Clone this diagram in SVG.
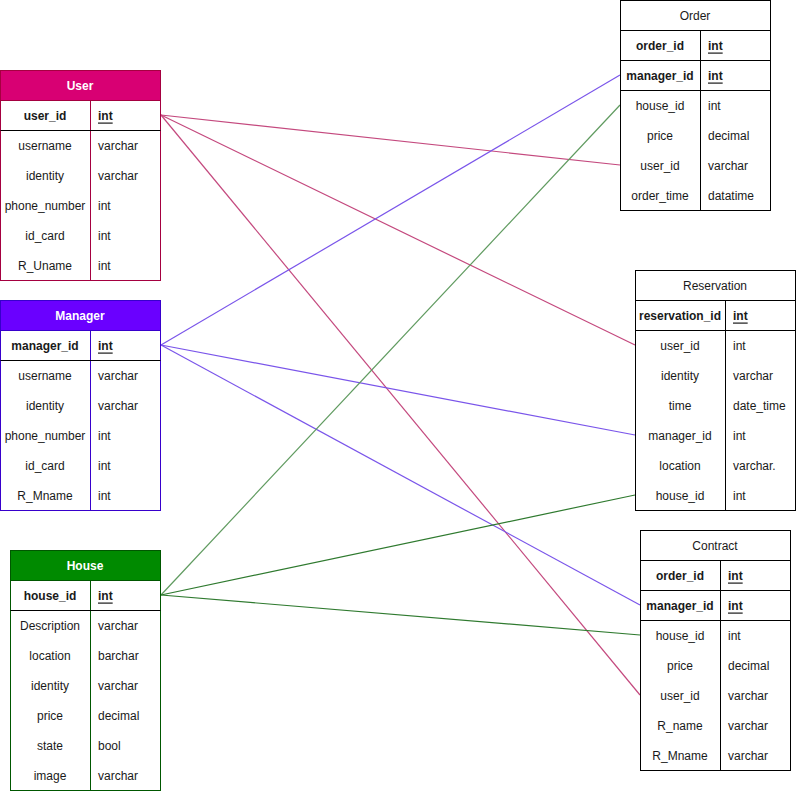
<svg xmlns="http://www.w3.org/2000/svg" width="796" height="791" viewBox="0 0 796 791">
<style>
text{font-family:"Liberation Sans",Arial,sans-serif;font-size:12px;fill:#1a1a1a;dominant-baseline:central}
.c{text-anchor:middle}
.h{font-weight:bold;fill:#ffffff;text-anchor:middle}
.b{font-weight:bold}
.u{text-decoration:underline}
.bx{fill:#ffffff}
.k{stroke:#000000;stroke-width:1;fill:none}
.conn line{stroke-width:1.2;fill:none}
.ru{stroke:#c4497e}
.rm{stroke:#7a55ea}
.rh{stroke:#2f7a2f}
.rh2{stroke:#5f9a5f}
</style>
<rect width="796" height="791" fill="#ffffff"/>
<g id="connectors" class="conn">
<line class="ru" x1="161" y1="115" x2="620" y2="165"/>
<line class="ru" x1="161" y1="115" x2="635" y2="345"/>
<line class="ru" x1="161" y1="115" x2="640" y2="695"/>
<line class="rm" x1="161" y1="345" x2="620" y2="75"/>
<line class="rm" x1="161" y1="345" x2="635" y2="435"/>
<line class="rm" x1="161" y1="345" x2="640" y2="605"/>
<line class="rh2" x1="161" y1="595" x2="620" y2="105"/>
<line class="rh" x1="161" y1="595" x2="635" y2="495"/>
<line class="rh" x1="161" y1="595" x2="640" y2="635"/>
</g>
<g id="User">
<rect class="bx" x="0.5" y="100.5" width="160" height="180" stroke="#a50040"/>
<rect x="0.5" y="70.5" width="160" height="30" fill="#d80073" stroke="#a50040"/>
<line x1="90.5" y1="100.5" x2="90.5" y2="280.5" stroke="#a50040"/>
<line class="k" x1="0.5" y1="130.5" x2="160.5" y2="130.5"/>
<text class="h" x="80" y="85.5">User</text>
<text class="c b" x="45" y="115.5">user_id</text><text class="b u" x="98" y="115.5">int</text>
<text class="c" x="45" y="145.5">username</text><text x="98" y="145.5">varchar</text>
<text class="c" x="45" y="175.5">identity</text><text x="98" y="175.5">varchar</text>
<text class="c" x="45" y="205.5">phone_number</text><text x="98" y="205.5">int</text>
<text class="c" x="45" y="235.5">id_card</text><text x="98" y="235.5">int</text>
<text class="c" x="45" y="265.5">R_Uname</text><text x="98" y="265.5">int</text>
</g>
<g id="Manager">
<rect class="bx" x="0.5" y="330.5" width="160" height="180" stroke="#3700cc"/>
<rect x="0.5" y="300.5" width="160" height="30" fill="#6a00ff" stroke="#3700cc"/>
<line x1="90.5" y1="330.5" x2="90.5" y2="510.5" stroke="#3700cc"/>
<line class="k" x1="0.5" y1="360.5" x2="160.5" y2="360.5"/>
<text class="h" x="80" y="315.5">Manager</text>
<text class="c b" x="45" y="345.5">manager_id</text><text class="b u" x="98" y="345.5">int</text>
<text class="c" x="45" y="375.5">username</text><text x="98" y="375.5">varchar</text>
<text class="c" x="45" y="405.5">identity</text><text x="98" y="405.5">varchar</text>
<text class="c" x="45" y="435.5">phone_number</text><text x="98" y="435.5">int</text>
<text class="c" x="45" y="465.5">id_card</text><text x="98" y="465.5">int</text>
<text class="c" x="45" y="495.5">R_Mname</text><text x="98" y="495.5">int</text>
</g>
<g id="House">
<rect class="bx" x="10.5" y="580.5" width="150" height="210" stroke="#005700"/>
<rect x="10.5" y="550.5" width="150" height="30" fill="#008a00" stroke="#005700"/>
<line x1="90.5" y1="580.5" x2="90.5" y2="790.5" stroke="#005700"/>
<line class="k" x1="10.5" y1="610.5" x2="160.5" y2="610.5"/>
<text class="h" x="85" y="565.5">House</text>
<text class="c b" x="50" y="595.5">house_id</text><text class="b u" x="98" y="595.5">int</text>
<text class="c" x="50" y="625.5">Description</text><text x="98" y="625.5">varchar</text>
<text class="c" x="50" y="655.5">location</text><text x="98" y="655.5">barchar</text>
<text class="c" x="50" y="685.5">identity</text><text x="98" y="685.5">varchar</text>
<text class="c" x="50" y="715.5">price</text><text x="98" y="715.5">decimal</text>
<text class="c" x="50" y="745.5">state</text><text x="98" y="745.5">bool</text>
<text class="c" x="50" y="775.5">image</text><text x="98" y="775.5">varchar</text>
</g>
<g id="Order">
<rect class="bx k" x="620.5" y="0.5" width="150" height="210"/>
<line class="k" x1="620.5" y1="30.5" x2="770.5" y2="30.5"/>
<line class="k" x1="620.5" y1="60.5" x2="770.5" y2="60.5"/>
<line class="k" x1="620.5" y1="90.5" x2="770.5" y2="90.5"/>
<line class="k" x1="700.5" y1="30.5" x2="700.5" y2="210.5"/>
<text class="c" x="695" y="15.5">Order</text>
<text class="c b" x="660" y="45.5">order_id</text><text class="b u" x="708" y="45.5">int</text>
<text class="c b" x="660" y="75.5">manager_id</text><text class="b u" x="708" y="75.5">int</text>
<text class="c" x="660" y="105.5">house_id</text><text x="708" y="105.5">int</text>
<text class="c" x="660" y="135.5">price</text><text x="708" y="135.5">decimal</text>
<text class="c" x="660" y="165.5">user_id</text><text x="708" y="165.5">varchar</text>
<text class="c" x="660" y="195.5">order_time</text><text x="708" y="195.5">datatime</text>
</g>
<g id="Reservation">
<rect class="bx k" x="635.5" y="270.5" width="160" height="240"/>
<line class="k" x1="635.5" y1="300.5" x2="795.5" y2="300.5"/>
<line class="k" x1="635.5" y1="330.5" x2="795.5" y2="330.5"/>
<line class="k" x1="725.5" y1="300.5" x2="725.5" y2="510.5"/>
<text class="c" x="715" y="285.5">Reservation</text>
<text class="c b" x="680" y="315.5">reservation_id</text><text class="b u" x="733" y="315.5">int</text>
<text class="c" x="680" y="345.5">user_id</text><text x="733" y="345.5">int</text>
<text class="c" x="680" y="375.5">identity</text><text x="733" y="375.5">varchar</text>
<text class="c" x="680" y="405.5">time</text><text x="733" y="405.5">date_time</text>
<text class="c" x="680" y="435.5">manager_id</text><text x="733" y="435.5">int</text>
<text class="c" x="680" y="465.5">location</text><text x="733" y="465.5">varchar.</text>
<text class="c" x="680" y="495.5">house_id</text><text x="733" y="495.5">int</text>
</g>
<g id="Contract">
<rect class="bx k" x="640.5" y="530.5" width="150" height="240"/>
<line class="k" x1="640.5" y1="560.5" x2="790.5" y2="560.5"/>
<line class="k" x1="640.5" y1="590.5" x2="790.5" y2="590.5"/>
<line class="k" x1="640.5" y1="620.5" x2="790.5" y2="620.5"/>
<line class="k" x1="720.5" y1="560.5" x2="720.5" y2="770.5"/>
<text class="c" x="715" y="545.5">Contract</text>
<text class="c b" x="680" y="575.5">order_id</text><text class="b u" x="728" y="575.5">int</text>
<text class="c b" x="680" y="605.5">manager_id</text><text class="b u" x="728" y="605.5">int</text>
<text class="c" x="680" y="635.5">house_id</text><text x="728" y="635.5">int</text>
<text class="c" x="680" y="665.5">price</text><text x="728" y="665.5">decimal</text>
<text class="c" x="680" y="695.5">user_id</text><text x="728" y="695.5">varchar</text>
<text class="c" x="680" y="725.5">R_name</text><text x="728" y="725.5">varchar</text>
<text class="c" x="680" y="755.5">R_Mname</text><text x="728" y="755.5">varchar</text>
</g>
</svg>
